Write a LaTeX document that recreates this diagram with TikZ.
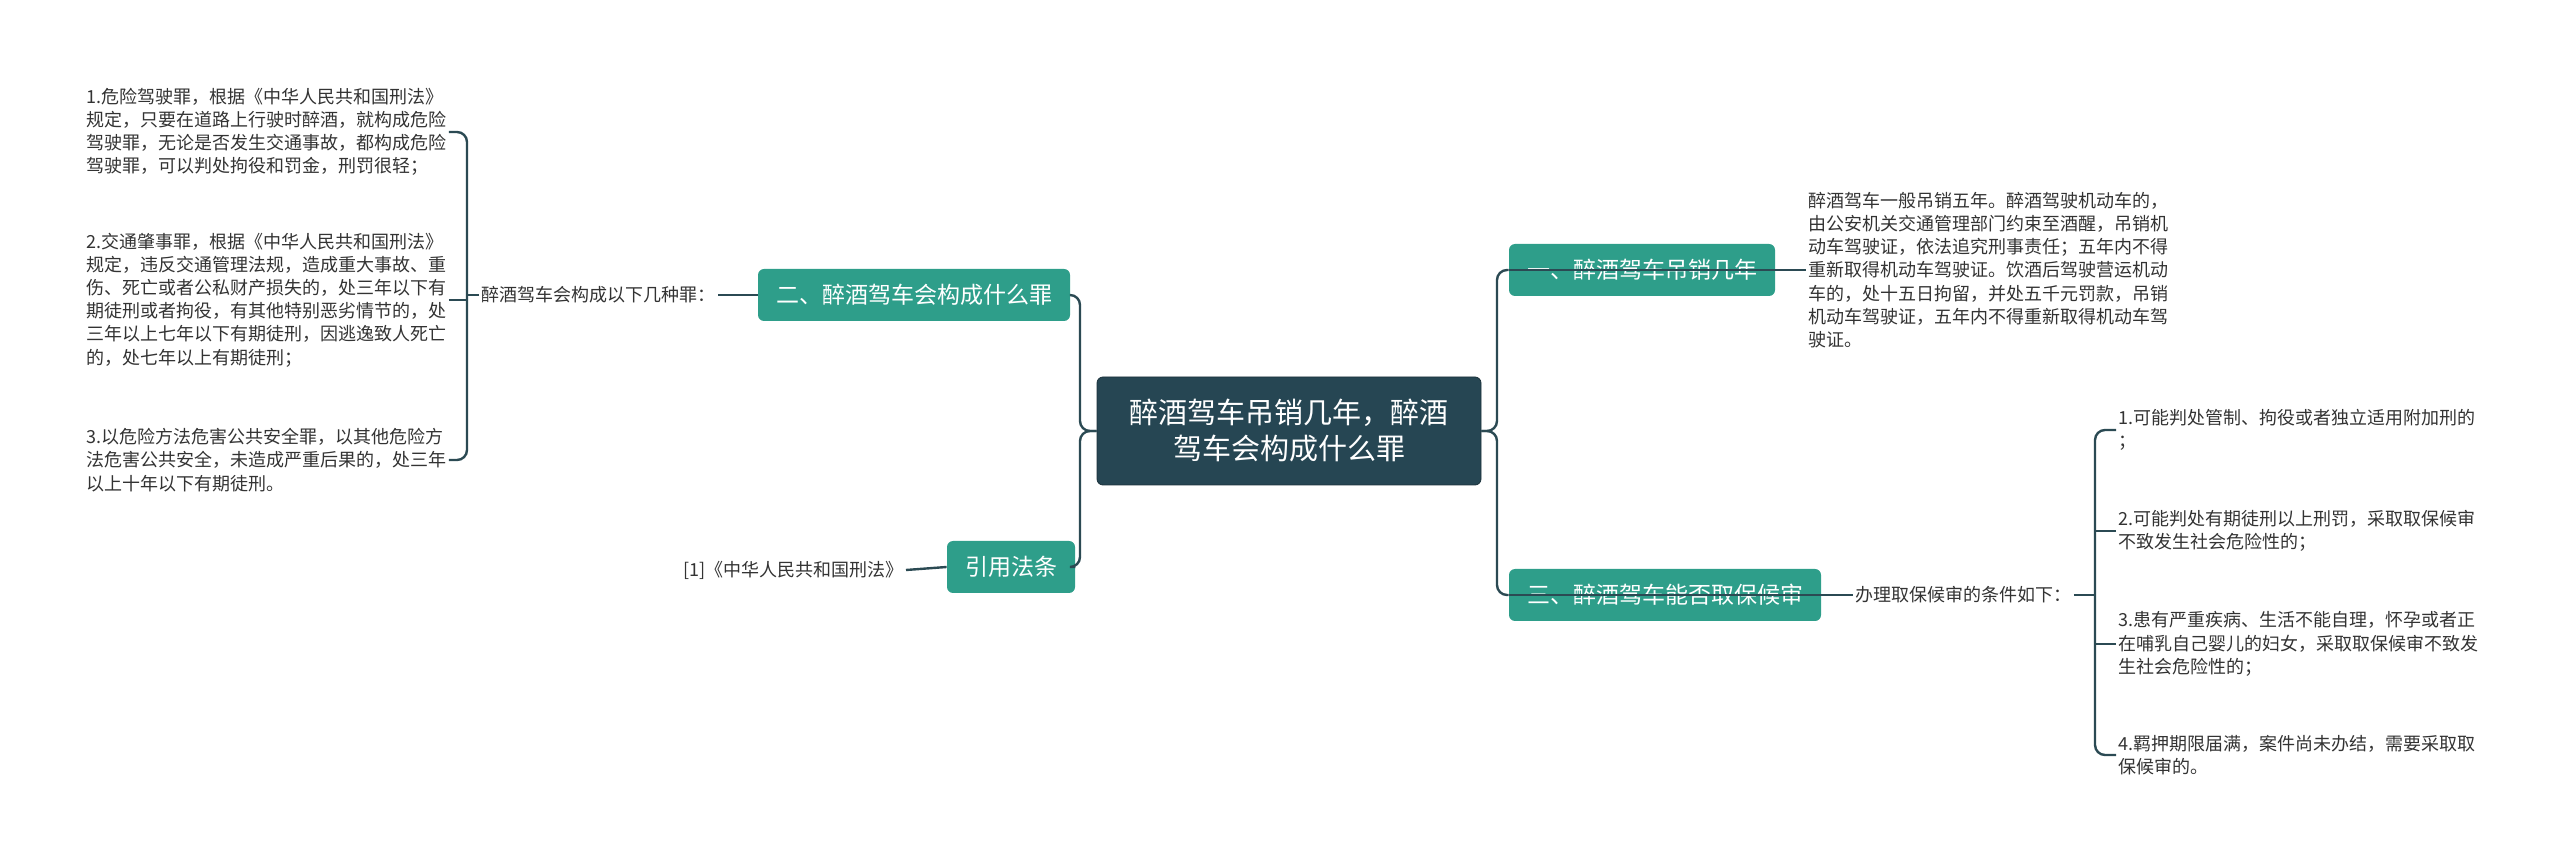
\documentclass[tikz,border=0pt]{standalone}
\usepackage{fontspec}
\setmainfont{Noto Sans CJK SC}
\definecolor{teal1}{HTML}{2E9E8A}
\definecolor{rootc}{HTML}{264653}
\definecolor{linec}{HTML}{2B4A53}
\definecolor{txt}{HTML}{333333}
\begin{document}
\begin{tikzpicture}[x=0.5pt,y=-0.5pt,
  rootbox/.style={fill=rootc,draw=rootc!70!black,rounded corners=3pt,text=white,align=center,
    font=\fontsize{14.5pt}{18pt}\selectfont,minimum width=192pt,minimum height=54pt},
  topic/.style={fill=teal1,rounded corners=3pt,text=white,font=\fontsize{11.5pt}{13pt}\selectfont,
    inner xsep=9pt,minimum height=26pt},
  leaf/.style={text=txt,align=left,font=\fontsize{9pt}{11.6pt}\selectfont,inner sep=1pt},
  conn/.style={draw=linec,line width=1.2pt,rounded corners=5pt}]
\useasboundingbox (0,0) rectangle (2560,865);
\node[rootbox] (root) at (1289,431) {醉酒驾车吊销几年，醉酒\\驾车会构成什么罪};
\node[topic] (n2) at (914,295) {二、醉酒驾车会构成什么罪};
\node[topic] (ref) at (1011,567) {引用法条};
\node[topic] (n1) at (1642,270) {一、醉酒驾车吊销几年};
\node[topic] (n3) at (1665,595) {三、醉酒驾车能否取保候审};
% left
\node[leaf,anchor=east] (l2) at (718,295) {醉酒驾车会构成以下几种罪：};
\node[leaf,anchor=west] (i1) at (84,132) {1.危险驾驶罪，根据《中华人民共和国刑法》\\规定，只要在道路上行驶时醉酒，就构成危险\\驾驶罪，无论是否发生交通事故，都构成危险\\驾驶罪，可以判处拘役和罚金，刑罚很轻；};
\node[leaf,anchor=west] (i2) at (84,300) {2.交通肇事罪，根据《中华人民共和国刑法》\\规定，违反交通管理法规，造成重大事故、重\\伤、死亡或者公私财产损失的，处三年以下有\\期徒刑或者拘役，有其他特别恶劣情节的，处\\三年以上七年以下有期徒刑，因逃逸致人死亡\\的，处七年以上有期徒刑；};
\node[leaf,anchor=west] (i3) at (84,460) {3.以危险方法危害公共安全罪，以其他危险方\\法危害公共安全，未造成严重后果的，处三年\\以上十年以下有期徒刑。};
\node[leaf,anchor=east] (r1) at (906,570) {[1]《中华人民共和国刑法》};
% right
\node[leaf,anchor=west] (t1) at (1806,270) {醉酒驾车一般吊销五年。醉酒驾驶机动车的，\\由公安机关交通管理部门约束至酒醒，吊销机\\动车驾驶证，依法追究刑事责任；五年内不得\\重新取得机动车驾驶证。饮酒后驾驶营运机动\\车的，处十五日拘留，并处五千元罚款，吊销\\机动车驾驶证，五年内不得重新取得机动车驾\\驶证。};
\node[leaf,anchor=west] (l3) at (1853,595) {办理取保候审的条件如下：};
\node[leaf,anchor=west] (j1) at (2116,430) {1.可能判处管制、拘役或者独立适用附加刑的\\；};
\node[leaf,anchor=west] (j2) at (2116,531) {2.可能判处有期徒刑以上刑罚，采取取保候审\\不致发生社会危险性的；};
\node[leaf,anchor=west] (j3) at (2116,644) {3.患有严重疾病、生活不能自理，怀孕或者正\\在哺乳自己婴儿的妇女，采取取保候审不致发\\生社会危险性的；};
\node[leaf,anchor=west] (j4) at (2116,755) {4.羁押期限届满，案件尚未办结，需要采取取\\保候审的。};
% trunks
\coordinate (tl) at (1080,431);
\coordinate (tr) at (1497,431);
\draw[conn] (root.west) -- (tl) |- (n2.east);
\draw[conn] (root.west) -- (tl) |- (ref.east);
\draw[conn] (root.east) -- (tr) |- (n1.west);
\draw[conn] (root.east) -- (tr) |- (n3.west);
\draw[conn] (n2.west) -- (l2.east);
\draw[conn] (ref.west) -- (r1.east);
\draw[conn] (n1.west) -- (t1.west);
\draw[conn] (n3.west) -- (l3.west);
% left bracket
\coordinate (bl) at (467,295);
\draw[conn] (i1.east) -- (bl |- i1.east) -- (bl |- i3.east) -- (i3.east);
\draw[conn] (i2.east) -- (bl |- i2.east);
\draw[conn] (l2.west) -- (bl);
% right bracket
\coordinate (br) at (2095,595);
\draw[conn] (j1.west) -- (br |- j1.west) -- (br |- j4.west) -- (j4.west);
\draw[conn] (j2.west) -- (br |- j2.west);
\draw[conn] (j3.west) -- (br |- j3.west);
\draw[conn] (l3.east) -- (br);
\end{tikzpicture}
\end{document}
